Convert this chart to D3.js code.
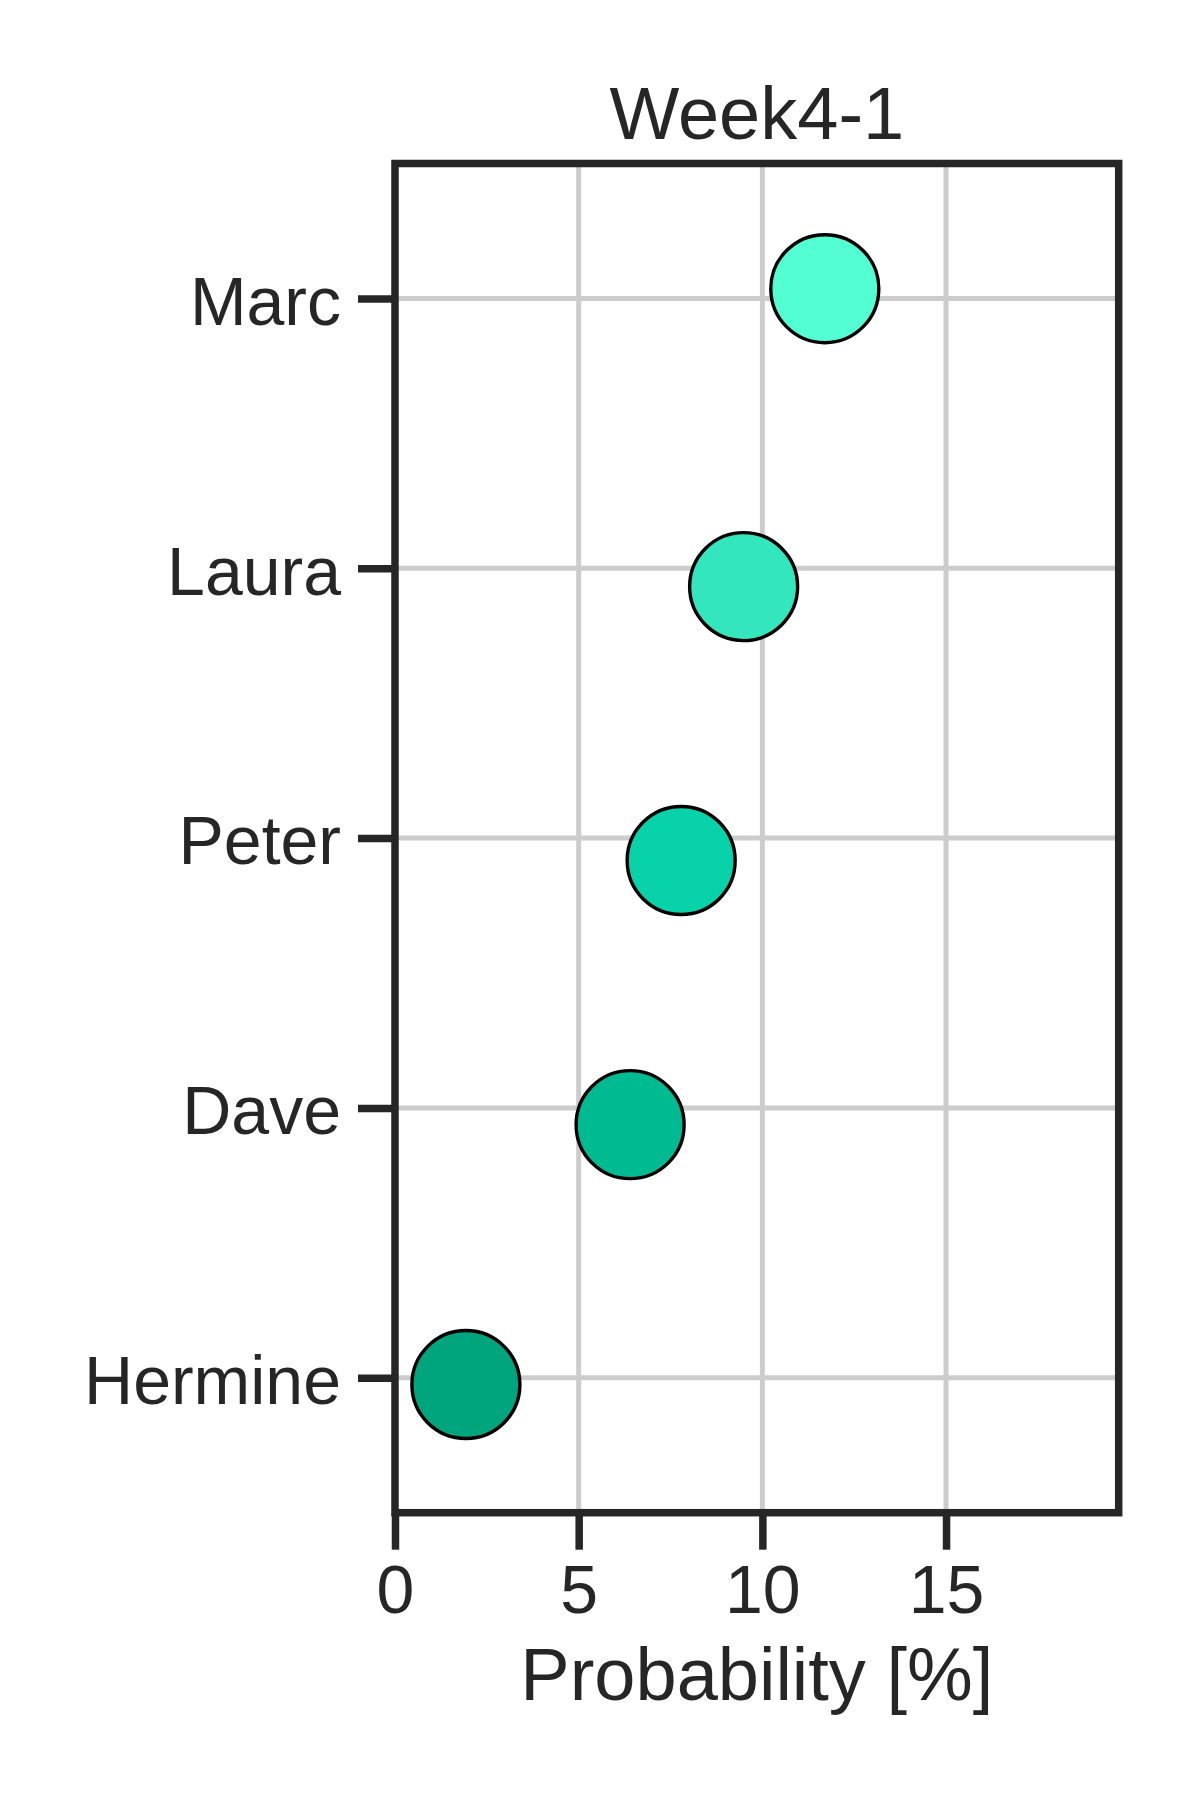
<!DOCTYPE html>
<html>
<head>
<meta charset="utf-8">
<script src="https://cdn.jsdelivr.net/npm/d3@7"></script>
<style>
  html, body { margin: 0; padding: 0; background: #ffffff; }
  svg { display: block; }
  text { font-family: "Liberation Sans", Arial, Helvetica, sans-serif; fill: #262626; }
</style>
</head>
<body>
<svg id="chart" width="1200" height="1800"></svg>
<script>
// ---- data ----
const names = ["Marc", "Laura", "Peter", "Dave", "Hermine"];
const probability = [11.7, 9.49, 7.79, 6.40, 1.93];
const jitter = [-0.036, 0.068, 0.083, 0.062, 0.025];
const colors = ["#54FED3", "#33E6BE", "#08D2AA", "#00BB92", "#00A57E"];
const xTicks = [0, 5, 10, 15];
const title = "Week4-1";
const xLabel = "Probability [%]";

// ---- layout ----
const W = 1200, H = 1800;
const mLeft = 395, mRight = 1118.7, mTop = 163.5, mBottom = 1512.7;
const ink = "#262626";

const svg = d3.select("#chart");
svg.append("rect").attr("width", W).attr("height", H).attr("fill", "#ffffff");

const x = d3.scaleLinear().domain([0, 19.7]).range([mLeft, mRight]);
const y = d3.scaleLinear().domain([-0.5, names.length - 0.5]).range([mTop, mBottom]);

// gridlines
const grid = svg.append("g");
grid.selectAll("line.vg").data(xTicks).join("line")
  .attr("class", "vg")
  .attr("x1", d => x(d)).attr("x2", d => x(d))
  .attr("y1", mTop).attr("y2", mBottom)
  .attr("stroke", "#cccccc").attr("stroke-width", 5);
grid.selectAll("line.hg").data(names).join("line")
  .attr("class", "hg")
  .attr("x1", mLeft).attr("x2", mRight)
  .attr("y1", (d, i) => y(i)).attr("y2", (d, i) => y(i))
  .attr("stroke", "#cccccc").attr("stroke-width", 5);

// dots
svg.append("g").selectAll("circle").data(names).join("circle")
  .attr("cx", (d, i) => x(probability[i]))
  .attr("cy", (d, i) => y(i + jitter[i]))
  .attr("r", 54)
  .attr("fill", (d, i) => colors[i])
  .attr("stroke", "#000000")
  .attr("stroke-width", 3.4);

// x axis
const xAxis = d3.axisBottom(x).tickValues(xTicks).tickSize(37).tickPadding(15).tickFormat(d3.format("d"));
const gx = svg.append("g").attr("transform", `translate(0,${mBottom})`).call(xAxis);
gx.select(".domain").remove();
gx.selectAll(".tick line").attr("stroke", ink).attr("stroke-width", 7.5);
gx.selectAll(".tick text").attr("font-size", 68).attr("fill", ink)
  .attr("font-family", "'Liberation Sans', Arial, sans-serif");

// y axis
const yAxis = d3.axisLeft(y).tickValues(d3.range(names.length)).tickSize(37).tickPadding(17)
  .tickFormat(i => names[i]);
const gy = svg.append("g").attr("transform", `translate(${mLeft},0)`).call(yAxis);
gy.select(".domain").remove();
gy.selectAll(".tick line").attr("stroke", ink).attr("stroke-width", 7.5);
gy.selectAll(".tick text").attr("font-size", 68).attr("fill", ink).attr("dy", "0.38em")
  .attr("font-family", "'Liberation Sans', Arial, sans-serif");

// frame
svg.append("rect")
  .attr("x", mLeft).attr("y", mTop)
  .attr("width", mRight - mLeft).attr("height", mBottom - mTop)
  .attr("fill", "none").attr("stroke", ink).attr("stroke-width", 7.5);

// title & label
svg.append("text").attr("x", (mLeft + mRight) / 2).attr("y", 139)
  .attr("text-anchor", "middle").attr("font-size", 74).text(title);
svg.append("text").attr("x", (mLeft + mRight) / 2).attr("y", 1700)
  .attr("text-anchor", "middle").attr("font-size", 74).text(xLabel);
</script>
</body>
</html>
